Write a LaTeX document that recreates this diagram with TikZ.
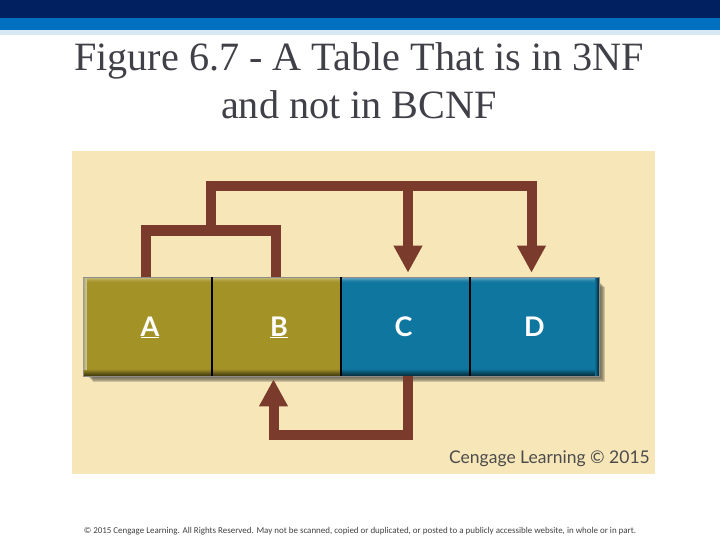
\documentclass[tikz,border=0pt]{standalone}
\usepackage{fontspec}
\setmainfont{Liberation Serif}
\newfontfamily\celltext{Lato}
\newfontfamily\notetext{Carlito}
\usetikzlibrary{arrows.meta}
\definecolor{navyband}{HTML}{002060}
\definecolor{blueband}{HTML}{0070C0}
\definecolor{paleband}{HTML}{D5E8F3}
\definecolor{panel}{HTML}{F6E6B8}
\definecolor{keycolor}{HTML}{A39226}
\definecolor{valcolor}{HTML}{0F769F}
\definecolor{arrowcolor}{HTML}{7B3B2C}
\definecolor{titlecolor}{HTML}{404048}
\begin{document}
\begin{tikzpicture}[x=1pt,y=-1pt,
  cell/.style={draw=black!45,line width=.8pt,fill=#1,minimum width=129pt,minimum height=99pt,
    inner sep=0pt,outer sep=0pt,text=white,font=\celltext\bfseries\fontsize{27}{27}\selectfont,
    text height=22pt,text depth=3pt,
    path picture={
      \foreach \s/\m in {0/58,1/68,2/78,3/87,4/94,5/98}
        \fill[#1!\m!white] ([yshift=-\s pt]path picture bounding box.north west) rectangle ([yshift=-\s pt-1pt]path picture bounding box.north east);
      \foreach \s/\m in {0/45,1/52,2/60,3/70,4/80,5/90,6/96}
        \fill[#1!\m!black] ([yshift=\s pt]path picture bounding box.south west) rectangle ([yshift=\s pt+1pt]path picture bounding box.south east);}},
  depline/.style={draw=arrowcolor,line width=10pt,miter limit=10},
  deparrow/.style={depline,-{Triangle[width=27pt,length=27pt]}}]

  \useasboundingbox (0,0) rectangle (720,540);
  \fill[navyband] (0,0) rectangle (720,18.5);
  \fill[blueband] (0,18.5) rectangle (720,30.5);
  \fill[paleband] (0,30.5) rectangle (720,35);
  \fill[panel] (72,151) rectangle (655,474);

  \foreach \d in {0,1,2,3,4}
    \fill[black!60!panel,opacity=.28] (89+\d,283+\d) rectangle (601+\d,378+\d);

  \node[cell=keycolor] (A) at (147.5,326.5) {\hspace*{5pt}\underline{A}};
  \node[cell=keycolor] (B) at (276.5,326.5) {\hspace*{5pt}\underline{B}};
  \node[cell=valcolor] (C) at (405.5,326.5) {C\hspace*{4pt}};
  \node[cell=valcolor] (D) at (534.5,326.5) {D};

  \foreach \s/\m in {0/40,1/60,2/80,3/93}
    \fill[keycolor!\m!black!50!white] ([xshift=\s pt,yshift=-1pt]A.north west) rectangle ([xshift=\s pt+1pt,yshift=6pt]A.south west);
  \foreach \s/\m in {0/45,1/60,2/78,3/92}
    \fill[valcolor!\m!black] ([xshift=-\s pt,yshift=-1pt]D.north east) rectangle ([xshift=-\s pt-1pt]D.south east);
  \foreach \a/\b in {A/B,B/C,C/D}
    \draw[black,line width=1.6pt] (\a.north east) -- (\a.south east);

  \coordinate (abjoin) at (211,230.5);
  \coordinate (topjoin) at (211,186);
  \coordinate (cdjoin) at (340,434.7);

  \draw[depline] ([xshift=-1.5pt]A.north) |- (abjoin) -| ([xshift=-1pt]B.north);
  \draw[deparrow] (abjoin) -- (topjoin) -| ([xshift=-3pt,yshift=4.3pt]D.north);
  \draw[deparrow] (topjoin) -| ([xshift=2.5pt,yshift=4.3pt]C.north);
  \draw[deparrow] ([xshift=2.5pt]C.south) |- (cdjoin) -| ([xshift=-3pt,yshift=-3.3pt]B.south);

  \node[text=titlecolor,font=\fontsize{40.2}{47.7}\selectfont,align=center,inner sep=0pt] (title) at (359,80.5)
    {Figure 6.7 - A Table That is in 3NF\\and not in BCNF};
  \node[text=black!70,font=\celltext\fontsize{17.5}{18}\selectfont,anchor=base east,inner sep=0pt] (credit) at (650,463)
    {Cengage Learning © 2015};
  \node[text=black!75,font=\notetext\fontsize{8.95}{9}\selectfont,inner sep=0pt] (note) at (360,531)
    {© 2015 Cengage Learning. All Rights Reserved. May not be scanned, copied or duplicated, or posted to a publicly accessible website, in whole or in part.};
\end{tikzpicture}
\end{document}
